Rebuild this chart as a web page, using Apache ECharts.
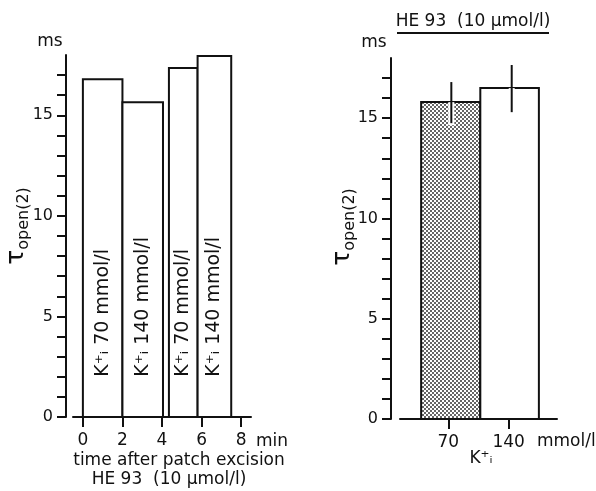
<!DOCTYPE html>
<html>
<head>
<meta charset="utf-8">
<script src="https://cdn.jsdelivr.net/npm/echarts@6.0.0/dist/echarts.min.js"></script>
<style>
  html, body { margin: 0; padding: 0; background: #fff; }
  #chart { width: 596px; height: 491px; }
</style>
</head>
<body>
<div id="chart"></div>
<script>
// left panel: tau_open(2) vs time after patch excision
const timeStart = [0, 2.0, 4.35, 5.8]
const timeEnd = [2.0, 4.05, 5.8, 7.5]
const tauByTime = [16.8, 15.65, 17.35, 17.95]
const concByTime = ['70', '140', '70', '140']
const timeTicks = [0, 2, 4, 6, 8]

// right panel: mean tau_open(2) per K+i concentration
const concCats = ['70', '140']
const concLeft = [-0.45, 0.53]
const concRight = [0.53, 1.5]
const tauMean = [15.8, 16.5]
const errLow = [14.75, 15.3]
const errHigh = [16.8, 17.65]
const errPos = [0.05, 1.05]

const yTicks = [0, 1, 2, 3, 4, 5, 6, 7, 8, 9, 10, 11, 12, 13, 14, 15, 16, 17]
const yLabels = [0, 5, 10, 15]

const FONT = 'DejaVu Sans'
const INK = '#111'

// dotted fill for the 70 mmol/l bar
function dotPattern() {
  const c = document.createElement('canvas')
  c.width = 4
  c.height = 4
  const g = c.getContext('2d')
  g.fillStyle = '#fff'
  g.fillRect(0, 0, 4, 4)
  g.fillStyle = '#333'
  g.beginPath(); g.arc(1, 1, 1.0, 0, Math.PI * 2); g.fill()
  g.beginPath(); g.arc(3, 3, 1.0, 0, Math.PI * 2); g.fill()
  return c
}
const dots = dotPattern()

const chart = echarts.init(document.getElementById('chart'), null, { renderer: 'canvas' })

const yAxisBase = (gridIndex, offset) => ({
  type: 'value',
  gridIndex,
  min: 0,
  max: 18,
  offset,
  splitLine: { show: false },
  axisLine: { show: true, onZero: false, lineStyle: { color: INK, width: 2 } },
  axisTick: { show: true, length: 9, customValues: yTicks, lineStyle: { color: INK, width: 2 } },
  axisLabel: { customValues: yLabels, margin: 13, color: INK, fontSize: 16, fontFamily: FONT }
})

const tauLabel = (x, y) => ({
  type: 'text',
  x,
  y,
  rotation: Math.PI / 2,
  style: {
    text: '{t|τ}{s|open(2)}',
    align: 'center',
    verticalAlign: 'middle',
    fill: INK,
    rich: {
      t: { fontSize: 25, fontFamily: FONT, lineHeight: 28, verticalAlign: 'top', fill: INK },
      s: { fontSize: 16, fontFamily: FONT, lineHeight: 16, verticalAlign: 'bottom', fill: INK }
    }
  }
})

const plainText = (text, x, y, size, align) => ({
  type: 'text',
  x,
  y,
  style: { text, fontSize: size, fontFamily: FONT, fill: INK, align: align || 'center', verticalAlign: 'middle' }
})

chart.setOption({
  animation: false,
  backgroundColor: '#fff',
  grid: [
    { left: 73, right: 345, top: 55, bottom: 74 },
    { left: 400, right: 39, top: 58, bottom: 72 }
  ],
  xAxis: [
    {
      type: 'value',
      gridIndex: 0,
      min: -0.5,
      max: 8.5,
      splitLine: { show: false },
      axisLine: { onZero: false, lineStyle: { color: INK, width: 2 } },
      axisTick: { customValues: timeTicks, length: 10, lineStyle: { color: INK, width: 2 } },
      axisLabel: { customValues: timeTicks, margin: 15, color: INK, fontSize: 17, fontFamily: FONT }
    },
    {
      type: 'value',
      gridIndex: 1,
      min: -0.8,
      max: 1.8,
      splitLine: { show: false },
      axisLine: { onZero: false, lineStyle: { color: INK, width: 2 } },
      axisTick: { customValues: [0, 1], length: 10, lineStyle: { color: INK, width: 2 } },
      axisLabel: {
        customValues: [0, 1],
        margin: 15,
        color: INK,
        fontSize: 17,
        fontFamily: FONT,
        formatter: (v) => concCats[Math.round(v)]
      }
    }
  ],
  yAxis: [yAxisBase(0, 7), yAxisBase(1, 9)],
  graphic: [
    plainText('ms', 50, 42, 17),
    plainText('ms', 374, 43, 17),
    tauLabel(18, 226),
    tauLabel(344, 227),
    plainText('min', 272, 442, 17),
    plainText('time after patch excision', 179, 461, 17),
    plainText('HE 93  (10 µmol/l)', 169, 480, 17),
    plainText('mmol/l', 537, 442, 17, 'left'),
    plainText('K⁺ᵢ', 481, 459, 17),
    plainText('HE 93  (10 µmol/l)', 473, 22, 17),
    { type: 'line', shape: { x1: 397, y1: 33, x2: 549, y2: 33 }, style: { stroke: INK, lineWidth: 2 } }
  ],
  series: [
    {
      type: 'custom',
      xAxisIndex: 0,
      yAxisIndex: 0,
      encode: { x: [0, 1], y: 2 },
      data: timeStart.map((s, i) => [s, timeEnd[i], tauByTime[i]]),
      renderItem: (params, api) => {
        const s = api.value(0)
        const e = api.value(1)
        const top = api.coord([s, api.value(2)])
        const base = api.coord([e, 0])
        const lab = api.coord([(s + e) / 2, 2])
        return {
          type: 'group',
          children: [
            {
              type: 'rect',
              shape: { x: top[0], y: top[1], width: base[0] - top[0], height: base[1] - top[1] },
              style: { fill: '#fff', stroke: INK, lineWidth: 2 }
            },
            {
              type: 'text',
              x: lab[0],
              y: lab[1],
              rotation: Math.PI / 2,
              style: {
                text: 'K⁺ᵢ ' + concByTime[params.dataIndex] + ' mmol/l',
                fontSize: 19,
                fontFamily: FONT,
                fill: INK,
                align: 'left',
                verticalAlign: 'middle'
              }
            }
          ]
        }
      }
    },
    {
      type: 'custom',
      xAxisIndex: 1,
      yAxisIndex: 1,
      encode: { x: [0, 1], y: 2 },
      data: concLeft.map((l, i) => [l, concRight[i], tauMean[i]]),
      renderItem: (params, api) => {
        const top = api.coord([api.value(0), api.value(2)])
        const base = api.coord([api.value(1), 0])
        return {
          type: 'rect',
          shape: { x: top[0], y: top[1], width: base[0] - top[0], height: base[1] - top[1] },
          style: {
            fill: params.dataIndex === 0 ? { image: dots, repeat: 'repeat' } : '#fff',
            stroke: INK,
            lineWidth: 2
          }
        }
      }
    },
    {
      type: 'custom',
      xAxisIndex: 1,
      yAxisIndex: 1,
      encode: { x: 0, y: [1, 2, 3] },
      data: errPos.map((p, i) => [p, errLow[i], errHigh[i], tauMean[i]]),
      renderItem: (params, api) => {
        const lo = api.coord([api.value(0), api.value(1)])
        const hi = api.coord([api.value(0), api.value(2)])
        const mid = api.coord([api.value(0), api.value(3)])
        return {
          type: 'group',
          children: [
            {
              type: 'line',
              shape: { x1: lo[0], y1: lo[1] + 2, x2: mid[0], y2: mid[1] },
              style: { stroke: '#fff', lineWidth: 6 }
            },
            {
              type: 'line',
              shape: { x1: lo[0], y1: lo[1], x2: hi[0], y2: hi[1] },
              style: { stroke: INK, lineWidth: 2 }
            }
          ]
        }
      }
    }
  ]
})
</script>
</body>
</html>
